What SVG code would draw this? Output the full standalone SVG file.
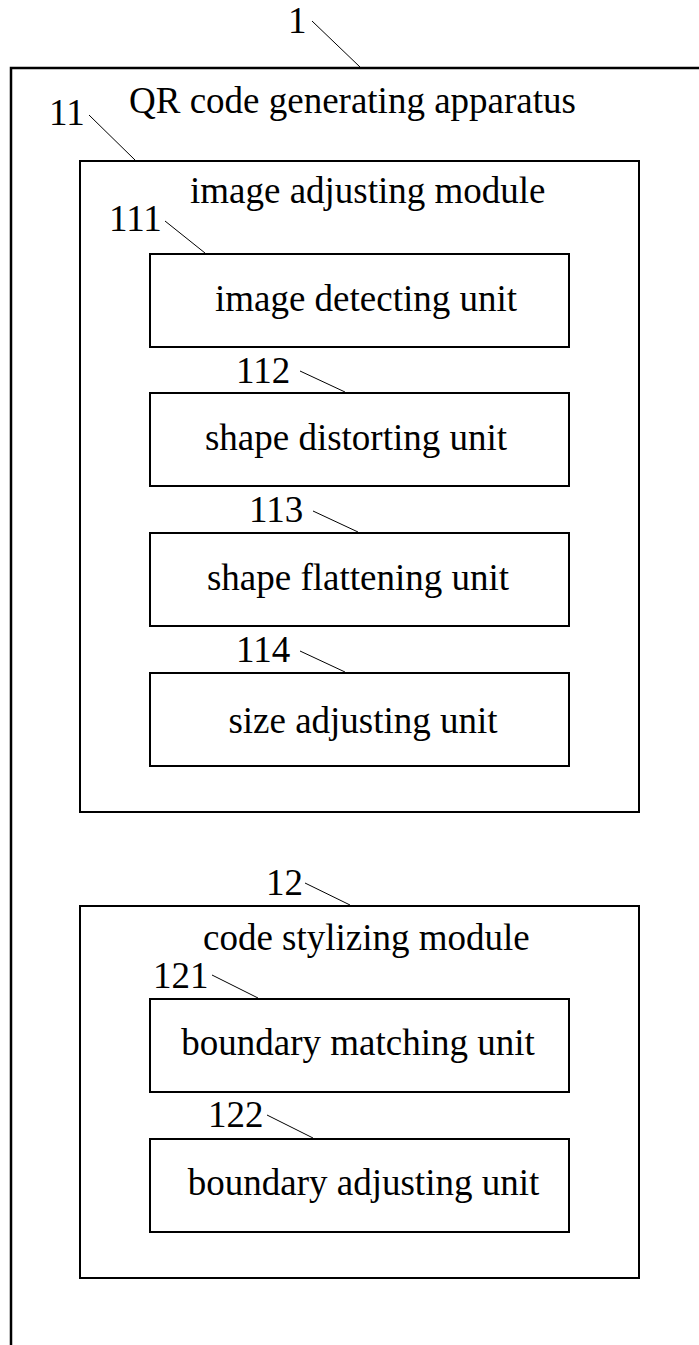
<svg xmlns="http://www.w3.org/2000/svg" width="699" height="1345" viewBox="0 0 699 1345">
<style>
.box{fill:none;stroke:#000;stroke-width:2}
.outer{fill:none;stroke:#000;stroke-width:2.5}
.t{font-family:"Liberation Serif","Times New Roman",serif;font-size:37px;fill:#000}
.c{text-anchor:middle}
.lead{stroke:#000;stroke-width:1;fill:none}
</style>
<rect width="699" height="1345" fill="#fff"/>
<g id="apparatus">
<path class="outer" d="M11,1345 V68 H699"/>
<text class="t" x="129" y="113">QR code generating apparatus</text>
<text class="t" x="288" y="33">1</text>
</g>
<g id="module11">
<rect class="box" x="80" y="161" width="559" height="651"/>
<text class="t" x="190" y="203">image adjusting module</text>
<text class="t" x="49" y="125">11</text>
</g>
<g id="unit111">
<rect class="box" x="150" y="254" width="419" height="93"/>
<text class="t c" x="366" y="311">image detecting unit</text>
<text class="t" x="109" y="231">111</text>
</g>
<g id="unit112">
<rect class="box" x="150" y="393" width="419" height="93"/>
<text class="t c" x="356" y="450">shape distorting unit</text>
<text class="t" x="236" y="383">112</text>
</g>
<g id="unit113">
<rect class="box" x="150" y="533" width="419" height="93"/>
<text class="t c" x="358" y="590">shape flattening unit</text>
<text class="t" x="249" y="522">113</text>
</g>
<g id="unit114">
<rect class="box" x="150" y="673" width="419" height="93"/>
<text class="t c" x="363" y="733">size adjusting unit</text>
<text class="t" x="236" y="662">114</text>
</g>
<g id="module12">
<rect class="box" x="80" y="906" width="559" height="372"/>
<text class="t" x="203" y="950">code stylizing module</text>
<text class="t" x="266" y="895">12</text>
</g>
<g id="unit121">
<rect class="box" x="150" y="999" width="419" height="93"/>
<text class="t c" x="358" y="1055">boundary matching unit</text>
<text class="t" x="153" y="988">121</text>
</g>
<g id="unit122">
<rect class="box" x="150" y="1139" width="419" height="93"/>
<text class="t c" x="363.5" y="1195">boundary adjusting unit</text>
<text class="t" x="208" y="1127">122</text>
</g>
<g id="connectors">
<line class="lead" x1="312" y1="21" x2="360" y2="67"/>
<line class="lead" x1="89" y1="115" x2="135" y2="160"/>
<line class="lead" x1="165" y1="221" x2="205" y2="253"/>
<line class="lead" x1="300" y1="371" x2="345" y2="392"/>
<line class="lead" x1="313" y1="511" x2="358" y2="532"/>
<line class="lead" x1="300" y1="651" x2="345" y2="672"/>
<line class="lead" x1="305" y1="883" x2="350" y2="905"/>
<line class="lead" x1="212" y1="975" x2="258" y2="998"/>
<line class="lead" x1="267" y1="1115" x2="313" y2="1138"/>
</g>
</svg>
